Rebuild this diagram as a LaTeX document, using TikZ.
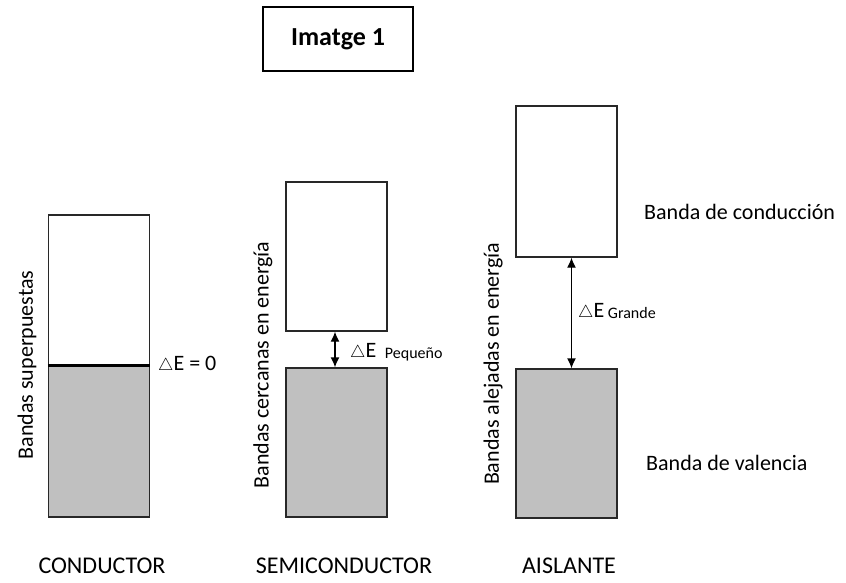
\documentclass[tikz,border=0pt]{standalone}
\usepackage{amsmath,amssymb}
\usepackage{fontspec}
\setmainfont{Carlito}
\usetikzlibrary{arrows.meta}
\definecolor{bandgray}{RGB}{192,192,192}
\definecolor{edgegray}{RGB}{40,40,40}
\newcommand{\tri}{{\fontsize{19}{19}\selectfont$\triangle$}}

\begin{document}
\begin{tikzpicture}[x=1pt, y=-1pt, >={Latex[length=10pt,width=9pt]},
    band/.style={draw=edgegray, line width=1.3pt, inner sep=0pt, minimum width=101pt},
    txt/.style={font=\fontsize{22}{26}\selectfont, inner sep=0pt},
    small/.style={font=\fontsize{15}{18}\selectfont, inner sep=0pt}]
    \useasboundingbox (0,0) rectangle (846,583);

    % titulo
    \node[draw, line width=1.6pt, minimum width=150pt, minimum height=64pt,
          font=\fontsize{26}{30}\selectfont\bfseries] (title) at (338,39) {Imatge 1};

    % conductor
    \node[band, minimum height=150pt, fill=white] (condC) at (99,290) {};
    \node[band, minimum height=152pt, fill=bandgray] (condV) at (99,441) {};
    \draw[line width=3pt] (condC.south west) -- (condC.south east);
    \node[txt, anchor=west] (dEc) at (158,365) {\tri E = 0};
    \node[txt, rotate=90] (vcond) at (27,365) {Bandas superpuestas};

    % semiconductor
    \node[band, minimum height=149pt, fill=white] (semC) at (336.5,256.5) {};
    \node[band, minimum height=149pt, fill=bandgray] (semV) at (336.5,442.5) {};
    \draw[<->, line width=1.3pt] ([xshift=-1.5pt]semC.south) -- ([xshift=-1.5pt]semV.north);
    \node[txt, anchor=west] (dEs) at (350,352) {\tri E \,\raisebox{-1pt}{\fontsize{16}{18}\selectfont Pequeño}};
    \node[txt, rotate=90] (vsem) at (263,365) {Bandas cercanas en energía};

    % aislante
    \node[band, minimum height=151pt, fill=white] (aisC) at (566.5,181.5) {};
    \node[band, minimum height=149pt, fill=bandgray] (aisV) at (566.5,443.5) {};
    \draw[<->, line width=1.3pt] ([xshift=5pt]aisC.south) -- ([xshift=5pt]aisV.north);
    \node[txt, anchor=west] (dEa) at (578,312) {\tri E\,\raisebox{-1pt}{\fontsize{16}{18}\selectfont Grande}};
    \node[txt, rotate=90] (vais) at (493,364) {Bandas alejadas en energía};

    % etiquetas de banda
    \node[txt, anchor=west] (lcond) at (644,212) {Banda de conducción};
    \node[txt, anchor=west] (lval) at (646,463) {Banda de valencia};

    % nombres
    \node[txt, font=\fontsize{24}{28}\selectfont] (ncond) at (102,566) {CONDUCTOR};
    \node[txt, font=\fontsize{24}{28}\selectfont] (nsem) at (344,566) {SEMICONDUCTOR};
    \node[txt, font=\fontsize{24}{28}\selectfont] (nais) at (569,566) {AISLANTE};
\end{tikzpicture}
\end{document}
